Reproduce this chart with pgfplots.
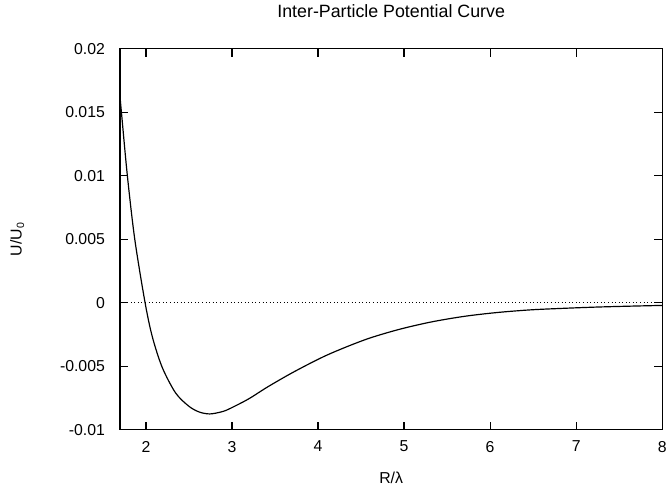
\documentclass[border=0pt]{standalone}
\usepackage{fontspec}
\setmainfont{Liberation Sans}
\usepackage{pgfplots}
\pgfplotsset{compat=1.18}

\pgfplotstableread{
x       u
1.700   0.0161
1.715   0.0150
1.784   0.0100
1.870   0.0050
1.990   0.0000
2.075  -0.0027
2.190  -0.0051
2.345  -0.0071
2.500  -0.00815
2.620  -0.0086
2.740  -0.00875
2.870  -0.0086
2.960  -0.00838
3.190  -0.00758
3.420  -0.00660
3.730  -0.00540
4.110  -0.00410
4.550  -0.00290
4.930  -0.00212
5.310  -0.00152
5.700  -0.00107
6.080  -0.00077
6.470  -0.00056
6.850  -0.00044
7.240  -0.00034
7.620  -0.00027
8.000  -0.00021
}\potential

\begin{document}
\begin{tikzpicture}
  \begin{axis}[
    scale only axis,
    width=409.5bp, height=288bp,
    xmin=1.7, xmax=8,
    ymin=-0.01, ymax=0.02,
    xtick={2,3,4,5,6,7,8},
    ytick={-0.01,-0.005,0,0.005,0.01,0.015,0.02},
    yticklabels={-0.01,-0.005,0,0.005,0.01,0.015,0.02},
    scaled y ticks=false,
    /pgf/number format/assume math mode=true,
    tick align=inside,
    major tick length=6bp,
    axis line style={line width=1pt},
    every tick/.style={black, line width=0.9pt},
    font=\fontsize{12}{14}\selectfont,
    xticklabel style={yshift=-5bp},
    yticklabel style={xshift=-8bp},
    title={Inter-Particle Potential Curve},
    title style={font=\fontsize{13.5}{16}\selectfont,
      at={(axis description cs:0.5,1.078)}, anchor=center},
    xlabel={R/λ},
    xlabel style={at={(axis description cs:0.5,-0.125)}, anchor=center},
    ylabel={U/U\textsubscript{0}},
    ylabel style={at={(axis description cs:-0.190,0.5)}, anchor=center},
  ]
    % zero line
    \addplot[black, dotted, line width=0.7pt] coordinates {(1.7,0) (8,0)};
    \addplot[black, line width=0.9pt, smooth] table[x=x, y=u] {\potential};
  \end{axis}
  \path (-90.75bp,-45.75bp) rectangle (412.5bp,320.25bp);
\end{tikzpicture}
\end{document}
